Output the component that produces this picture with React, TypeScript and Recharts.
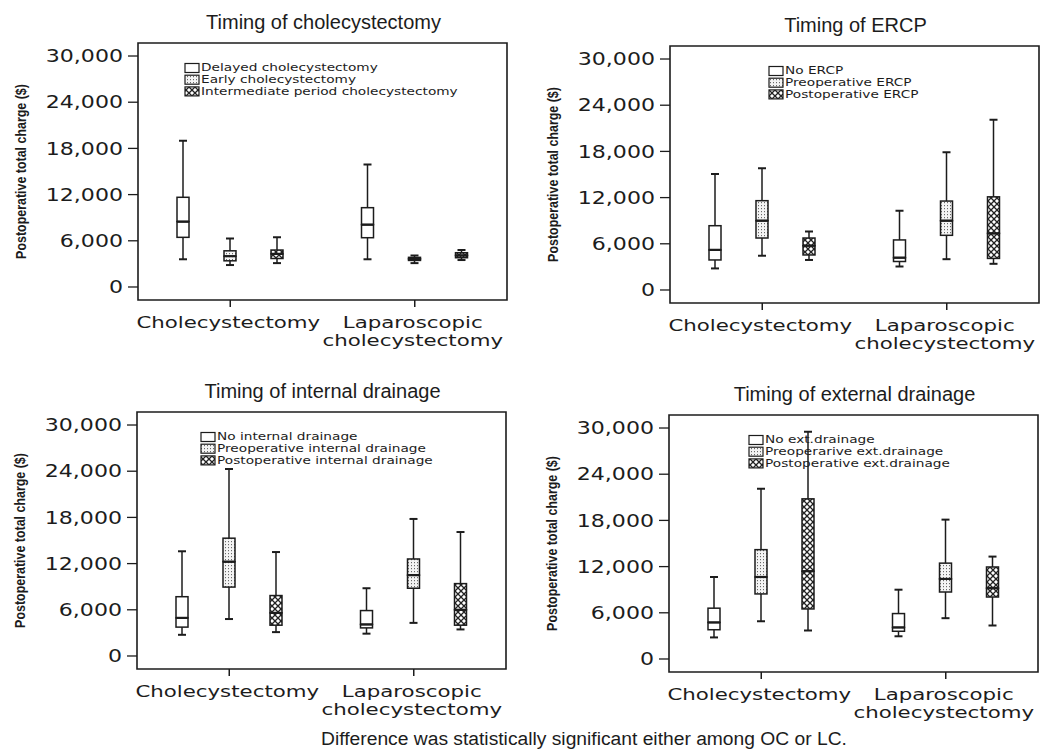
import React from "react";
import { ComposedChart, Bar, XAxis, YAxis, ReferenceArea } from "recharts";

const groups = ["Cholecystectomy", "Laparoscopic cholecystectomy"];
const groupLines = [["Cholecystectomy"], ["Laparoscopic", "cholecystectomy"]];
const yTicks = [0, 6000, 12000, 18000, 24000, 30000];
const yDomain = [-1690, 31690];

// box = [min, q1, median, q3, max]; first box open chole (OC), second lap chole (LC)
const delayedChole = [[3600, 6450, 8500, 11650, 19000], [3600, 6400, 8100, 10300, 15900]];
const earlyChole = [[2850, 3400, 4000, 4700, 6300], [3100, 3450, 3650, 3850, 4100]];
const interChole = [[3100, 3700, 4300, 4800, 6450], [3500, 3800, 4100, 4450, 4800]];

const noErcp = [[2800, 3900, 5200, 8350, 15050], [3050, 3700, 4200, 6500, 10300]];
const preErcp = [[4450, 6750, 9000, 11600, 15800], [4000, 7100, 9000, 11550, 17900]];
const postErcp = [[3900, 4550, 5750, 6750, 7600], [3400, 4100, 7350, 12100, 22100]];

const noInternal = [[2750, 3750, 4950, 7700, 13600], [2900, 3650, 4100, 5900, 8800]];
const preInternal = [[4800, 8950, 12250, 15300, 24300], [4300, 8800, 10500, 12600, 17800]];
const postInternal = [[3100, 4000, 5600, 7850, 13500], [3450, 4000, 6000, 9400, 16100]];

const noExternal = [[2800, 3800, 4750, 6600, 10650], [2950, 3600, 4100, 5900, 9000]];
const preExternal = [[4900, 8450, 10650, 14200, 22100], [5300, 8700, 10400, 12450, 18100]];
const postExternal = [[3700, 6500, 11400, 20800, 29500], [4350, 8050, 9200, 11950, 13300]];

const cholLegend = ["Delayed cholecystectomy", "Early cholecystectomy", "Intermediate period cholecystectomy"];
const ercpLegend = ["No ERCP", "Preoperative ERCP", "Postoperative ERCP"];
const internalLegend = ["No internal drainage", "Preoperative internal drainage", "Postoperative internal drainage"];
const externalLegend = ["No ext.drainage", "Preoperarive ext.drainage", "Postoperative ext.drainage"];

const ink = "#1c1c1c";
const wide = "'DejaVu Sans', Verdana, sans-serif";
const arial = "'Liberation Sans', Arial, sans-serif";

// plot frame inside each panel
const frameL = 138;
const frameT = 43;
const frameW = 369;
const frameH = 257;

const YTick = (p: any) => (
  <g transform={`translate(${p.x},${p.y}) scale(1.3,1)`}>
    <text x={0} y={0} dy="0.36em" textAnchor="end" fontFamily={wide} fontSize={17} fill={ink}>
      {Number(p.payload.value).toLocaleString("en-US")}
    </text>
  </g>
);

const XTick = (p: any) => {
  const idx = groups.indexOf(p.payload.value);
  const lines = idx >= 0 ? groupLines[idx] : [String(p.payload.value)];
  return (
    <g transform={`translate(${p.x - 2},${p.y})`}>
      {lines.map((l, i) => (
        <g key={i} transform={`translate(0,${19 + i * 18}) scale(1.3,1)`}>
          <text x={0} y={0} textAnchor="middle" fontFamily={wide} fontSize={16.4} fill={ink}>
            {l}
          </text>
        </g>
      ))}
    </g>
  );
};

const noShape = () => <g />;

const lowWhisker = (p: any) => {
  const cx = p.x + p.width / 2;
  const yb = p.y + p.height;
  return (
    <g>
      <line x1={cx} x2={cx} y1={p.y} y2={yb} stroke={ink} strokeWidth={1.5} />
      <line x1={cx - 4} x2={cx + 4} y1={yb} y2={yb} stroke={ink} strokeWidth={2} />
    </g>
  );
};

const highWhisker = (p: any) => {
  const cx = p.x + p.width / 2;
  return (
    <g>
      <line x1={cx} x2={cx} y1={p.y} y2={p.y + p.height} stroke={ink} strokeWidth={1.5} />
      <line x1={cx - 4} x2={cx + 4} y1={p.y} y2={p.y} stroke={ink} strokeWidth={2} />
    </g>
  );
};

const boxShape = (fill: string, median: boolean) => (p: any) => (
  <g>
    <rect x={p.x} y={p.y} width={p.width} height={Math.max(p.height, 0)} fill={fill} stroke={ink} strokeWidth={1.5} />
    {median && (
      <line x1={p.x} x2={p.x + p.width} y1={p.y + p.height} y2={p.y + p.height} stroke={ink} strokeWidth={2.2} />
    )}
  </g>
);

function BoxPanel({ id, left, top, title, legend, legendX, series }: any) {
  const fills = ["#ffffff", `url(#dots-${id})`, `url(#cross-${id})`];

  const data = groups.map((g, gi) => {
    const row: any = { group: g };
    series.forEach((s: number[][], si: number) => {
      const [mn, q1, md, q3, mx] = s[gi];
      row[`b${si}`] = mn;
      row[`lw${si}`] = q1 - mn;
      row[`lb${si}`] = md - q1;
      row[`ub${si}`] = q3 - md;
      row[`uw${si}`] = mx - q3;
    });
    return row;
  });

  return (
    <div style={{ position: "absolute", left, top, width: 520, height: 360 }}>
      <svg width={520} height={360} style={{ position: "absolute", left: 0, top: 0 }}>
        <defs>
          <pattern id={`dots-${id}`} width={3} height={3} patternUnits="userSpaceOnUse">
            <rect width={3} height={3} fill="#f4f4f4" />
            <rect x={1} y={1} width={1} height={1.2} fill="#6a6a6a" />
          </pattern>
          <pattern id={`cross-${id}`} width={6} height={6} patternUnits="userSpaceOnUse">
            <rect width={6} height={6} fill="#ffffff" />
            <path d="M0 0 L6 6 M6 0 L0 6" stroke="#222" strokeWidth={1.3} />
          </pattern>
        </defs>
      </svg>
      <div style={{ position: "absolute", left: 0, top: 0 }}>
        <ComposedChart
          width={520}
          height={360}
          data={data}
          margin={{ top: frameT, right: 520 - frameL - frameW, bottom: 360 - frameT - frameH - 50, left: 0 }}
          barGap={35}
          barSize={12}
        >
          <XAxis
            dataKey="group"
            height={50}
            axisLine={false}
            tickLine={{ stroke: ink, strokeWidth: 1.5 }}
            tickSize={7}
            tickMargin={2}
            tick={<XTick />}
            interval={0}
          />
          <YAxis
            type="number"
            domain={yDomain}
            ticks={yTicks}
            allowDataOverflow
            width={frameL}
            axisLine={false}
            tickLine={{ stroke: ink, strokeWidth: 1.3 }}
            tickSize={10}
            tickMargin={5}
            tick={<YTick />}
          />
          <ReferenceArea y1={yDomain[0]} y2={yDomain[1]} fill="none" stroke={ink} strokeWidth={1.6} />
          {series.map((_: any, si: number) => [
            <Bar key={`b${si}`} dataKey={`b${si}`} stackId={`s${si}`} shape={noShape} isAnimationActive={false} />,
            <Bar key={`lw${si}`} dataKey={`lw${si}`} stackId={`s${si}`} shape={lowWhisker} isAnimationActive={false} />,
            <Bar key={`lb${si}`} dataKey={`lb${si}`} stackId={`s${si}`} shape={boxShape(fills[si], false)} isAnimationActive={false} />,
            <Bar key={`ub${si}`} dataKey={`ub${si}`} stackId={`s${si}`} shape={boxShape(fills[si], true)} isAnimationActive={false} />,
            <Bar key={`uw${si}`} dataKey={`uw${si}`} stackId={`s${si}`} shape={highWhisker} isAnimationActive={false} />,
          ])}
        </ComposedChart>
      </div>
      <svg width={520} height={360} style={{ position: "absolute", left: 0, top: 0, pointerEvents: "none" }}>
        <text x={frameL + frameW / 2 + 1} y={frameT - 14} textAnchor="middle" fontFamily={arial} fontSize={20} fill={ink}>
          {title}
        </text>
        <g transform={`translate(${frameL - 117},${frameT + frameH / 2}) rotate(-90) scale(0.83,1)`}>
          <text x={0} y={0} textAnchor="middle" dominantBaseline="central" fontFamily={arial} fontWeight="bold" fontSize={15} fill={ink}>
            Postoperative total charge ($)
          </text>
        </g>
        {legend.map((label: string, i: number) => {
          const cy = frameT + 25 + i * 11.7;
          const lx = frameL + legendX;
          return (
            <g key={label}>
              <rect x={lx} y={cy - 4.5} width={14} height={9} fill={fills[i]} stroke={ink} strokeWidth={1.2} />
              <g transform={`translate(${lx + 16},${cy}) scale(1.37,1)`}>
                <text x={0} y={0} dominantBaseline="central" fontFamily={wide} fontSize={10} fill={ink}>
                  {label}
                </text>
              </g>
            </g>
          );
        })}
      </svg>
    </div>
  );
}

export default function App() {
  return (
    <div style={{ position: "absolute", left: 0, top: 0, width: 1042, height: 750, overflow: "hidden", background: "#fff" }}>
      <BoxPanel id="p1" left={0} top={0} title="Timing of cholecystectomy" legend={cholLegend} legendX={47}
        series={[delayedChole, earlyChole, interChole]} />
      <BoxPanel id="p2" left={532} top={3} title="Timing of ERCP" legend={ercpLegend} legendX={99}
        series={[noErcp, preErcp, postErcp]} />
      <BoxPanel id="p3" left={-1} top={369} title="Timing of internal drainage" legend={internalLegend} legendX={64}
        series={[noInternal, preInternal, postInternal]} />
      <BoxPanel id="p4" left={531} top={372} title="Timing of external drainage" legend={externalLegend} legendX={80}
        series={[noExternal, preExternal, postExternal]} />
      <svg width={1042} height={30} style={{ position: "absolute", left: 0, top: 722 }}>
        <g transform="translate(584,23) scale(1.07,1)">
          <text x={0} y={0} textAnchor="middle" fontFamily={arial} fontSize={18} fill={ink}>
            Difference was statistically significant either among OC or LC.
          </text>
        </g>
      </svg>
    </div>
  );
}
